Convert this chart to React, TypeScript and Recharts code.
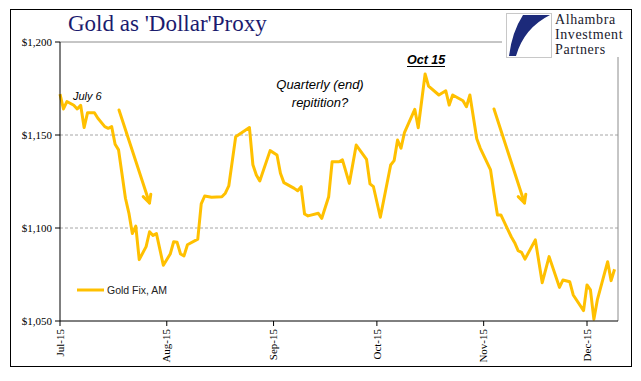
import { LineChart, Line, XAxis, YAxis, ReferenceLine } from "recharts";

// Gold fix AM, Jul - Dec 2015. x = days counted from Jul 1
const dayOffsets = [
  0, 1, 2, 4, 5, 6, 7, 8, 10, 11, 13, 14, 15, 16, 17, 18, 19, 20, 21, 22, 23, 25, 26, 27, 28, 30,
  32, 33, 34, 35, 36, 37, 40, 41, 42, 44, 47, 48, 49, 51, 55, 56, 57, 58, 61, 63, 64, 65, 68, 69,
  70, 71, 72, 75, 76, 78, 79, 81, 82, 84, 86, 89, 90, 91, 93, 96, 97, 98, 99, 100, 103, 104, 106,
  107, 110, 112, 113, 114, 117, 118, 119, 121, 122, 125, 126, 127, 128, 131, 132, 133, 134, 135,
  138, 140, 142, 145, 146, 148, 149, 152, 153, 154, 155, 156, 159, 160, 161,
];
const fixAm = [
  1172, 1164, 1168, 1166, 1164, 1166, 1154, 1162, 1162, 1159, 1154.5, 1153.6, 1154.5, 1145, 1142,
  1129, 1116, 1108, 1097, 1101, 1083, 1090, 1098, 1096, 1097, 1080, 1086, 1092.6, 1092.3, 1086,
  1085, 1091, 1094, 1113, 1117.2, 1116.5, 1116.8, 1118.7, 1122.6, 1149, 1154, 1134, 1128.5, 1125.3,
  1141.6, 1139.3, 1129.4, 1124.4, 1121.3, 1120, 1122.2, 1107.5, 1106.5, 1107.9, 1105.2, 1116.8,
  1135.6, 1135.6, 1136.6, 1124, 1144.6, 1136.9, 1123.7, 1122.2, 1105.8, 1133.9, 1136.2, 1147.3,
  1142.9, 1151.3, 1163.8, 1153.9, 1182.8, 1176.3, 1171.5, 1173.8, 1166.1, 1171.5, 1168.4, 1165.2,
  1171.5, 1148, 1143, 1131.2, 1118.7, 1107, 1107, 1095.3, 1092.1, 1087.8, 1086.9, 1083.3, 1093.6,
  1070.6, 1084.6, 1068.1, 1072, 1071.1, 1064, 1055.6, 1069.4, 1066.7, 1050.9, 1061.3, 1081.9,
  1071.7, 1077.8,
];
const monthTicks = [0, 31, 62, 92, 123, 153];
const monthLabels = ["Jul-15", "Aug-15", "Sep-15", "Oct-15", "Nov-15", "Dec-15"];
const priceTicks = [1050, 1100, 1150, 1200];

const data = dayOffsets.map((d, i) => ({ d, v: fixAm[i] }));

const GOLD = "#FFC000";
const SERIF = "'Liberation Serif', 'Times New Roman', serif";
const SANS = "'Liberation Sans', Arial, sans-serif";

const MonthTick = ({ x, y, payload }: any) => {
  const i = monthTicks.indexOf(payload.value);
  return (
    <g transform={`translate(${x},${y})`}>
      <text transform="rotate(-90)" textAnchor="end" dy="0.33em" fontFamily={SERIF} fontSize={11} fill="#000">
        {monthLabels[i]}
      </text>
    </g>
  );
};

export default function App() {
  return (
    <div style={{ position: "relative", width: 641, height: 381, background: "#fff" }}>
      <style>{`body{margin:0}`}</style>
      <LineChart width={641} height={381} data={data} margin={{ top: 42, right: 23, bottom: 15, left: 0 }}>
        <XAxis
          dataKey="d"
          type="number"
          domain={[0, 162]}
          ticks={monthTicks}
          interval={0}
          height={45}
          tickSize={5}
          tickMargin={3}
          tick={<MonthTick />}
          axisLine={{ stroke: "#000" }}
          tickLine={{ stroke: "#000" }}
        />
        <YAxis
          type="number"
          domain={[1050, 1200]}
          ticks={priceTicks}
          width={60}
          tickSize={5}
          tickMargin={3}
          tickFormatter={(v) => "$" + v.toLocaleString("en-US")}
          tick={{ fontFamily: SERIF, fontSize: 11, fill: "#000" }}
          axisLine={{ stroke: "#000" }}
          tickLine={{ stroke: "#000" }}
        />
        <ReferenceLine y={1100} stroke="#a6a6a6" strokeDasharray="3 2" />
        <ReferenceLine y={1150} stroke="#a6a6a6" strokeDasharray="3 2" />
        <ReferenceLine y={1200} stroke="#8c8c8c" />
        <ReferenceLine x={162} stroke="#8c8c8c" />
        <Line
          dataKey="v"
          type="linear"
          stroke={GOLD}
          strokeWidth={3}
          strokeLinejoin="round"
          dot={false}
          isAnimationActive={false}
        />
      </LineChart>

      <svg width={641} height={381} style={{ position: "absolute", left: 0, top: 0, pointerEvents: "none" }}>
        <rect x={10.5} y={9.5} width={621} height={357} fill="none" stroke="#000" />
        <text x={68} y={31} fontFamily={SERIF} fontSize={23} fill="#1b1b6e">
          Gold as 'Dollar'Proxy
        </text>

        {/* logo */}
        <rect x={502} y={11} width={126} height={46} fill="#fff" />
        <rect x={506.5} y={13.5} width={45} height={44} fill="#fff" stroke="#c8c8c8" />
        <path d="M523,15 L550,15 Q524,28 516,56 L509,56 Q512,32 523,15 Z" fill="#1c2a7a" />
        <text x={555} y={24} fontFamily={SERIF} fontSize={14} letterSpacing={0.6} fill="#1a1a2e">
          Alhambra
        </text>
        <text x={555} y={39} fontFamily={SERIF} fontSize={14} letterSpacing={0.6} fill="#1a1a2e">
          Investment
        </text>
        <text x={555} y={54} fontFamily={SERIF} fontSize={14} letterSpacing={0.6} fill="#1a1a2e">
          Partners
        </text>

        {/* annotations */}
        <text x={73} y={100} fontFamily={SANS} fontStyle="italic" fontSize={11} fill="#000">
          July 6
        </text>
        <text x={320} y={89} textAnchor="middle" fontFamily={SANS} fontStyle="italic" fontSize={13} fill="#000">
          Quarterly (end)
        </text>
        <text x={320} y={107} textAnchor="middle" fontFamily={SANS} fontStyle="italic" fontSize={13} fill="#000">
          repitition?
        </text>
        <text x={407} y={64} fontFamily={SANS} fontStyle="italic" fontWeight="bold" fontSize={12.5} fill="#000">
          Oct 15
        </text>
        <line x1={407} y1={66.5} x2={445} y2={66.5} stroke="#000" strokeWidth={1} />

        <g stroke={GOLD} strokeWidth={3} fill="none" strokeLinecap="round" strokeLinejoin="round">
          <line x1={119} y1={110} x2={149.5} y2={203} />
          <polyline points="150.8,194.2 149.5,203 143.2,196.6" />
          <line x1={494} y1={109} x2={524.5} y2={203} />
          <polyline points="525.8,194.2 524.5,203 518.2,196.6" />
        </g>

        {/* legend */}
        <line x1={77} y1={290} x2={104} y2={290} stroke={GOLD} strokeWidth={3} />
        <text x={107} y={294} fontFamily={SANS} fontSize={10.5} fill="#222">
          Gold Fix, AM
        </text>
      </svg>
    </div>
  );
}
